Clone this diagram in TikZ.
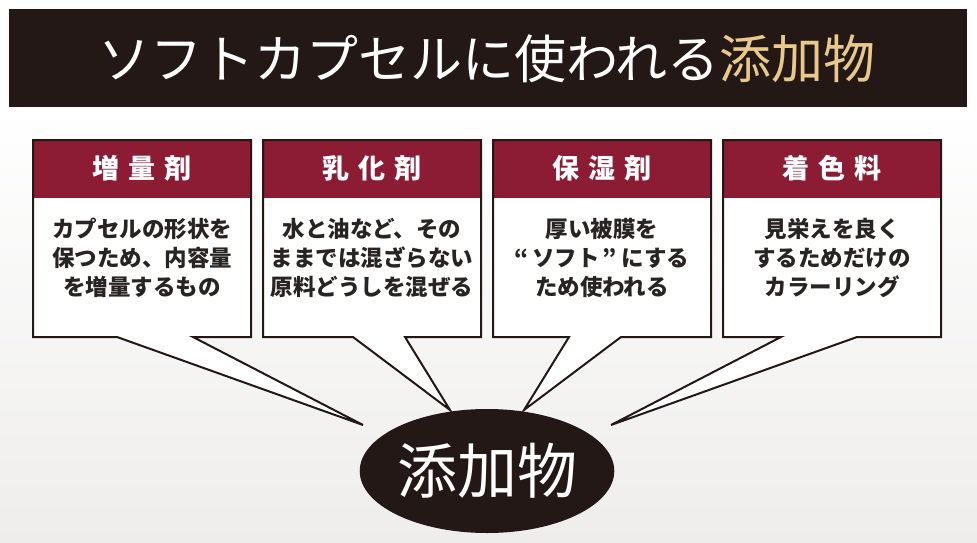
\documentclass[tikz,border=0pt]{standalone}
\usepackage{fontspec}
\usetikzlibrary{shapes.geometric}
\setmainfont{Noto Sans CJK JP}
\definecolor{barcol}{RGB}{35,24,21}
\definecolor{gold}{RGB}{232,200,140}
\definecolor{maroon}{RGB}{140,27,52}
\definecolor{bodytxt}{RGB}{40,36,34}
\definecolor{bgbot}{RGB}{238,237,236}
\tikzset{
  headbox/.style={rectangle, minimum width=218pt, minimum height=58pt, inner sep=0pt,
     text=white, font=\fontsize{27}{30}\selectfont\bfseries},
  bodytext/.style={align=center, text=bodytxt, inner sep=0pt,
     font=\fontsize{22.5}{29}\selectfont\bfseries},
  outline/.style={draw=barcol, line width=2pt, line join=miter},
}
\begin{document}
\begin{tikzpicture}[x=1pt,y=-1pt]
\useasboundingbox (0,0) rectangle (977,543);
% background
\fill[white] (0,0) rectangle (977,107);
\shade[top color=white, bottom color=bgbot] (0,107) rectangle (977,543);
% title bar
\fill[barcol] (9,9) rectangle (967,107);
\node[text=white, font=\fontsize{52}{60}\selectfont, inner sep=0pt] (title) at (487,59)
  {ソフトカプセルに使われる\textcolor{gold}{添加物}};

% ellipse
\node[ellipse, fill=barcol, minimum width=232pt, minimum height=124pt, inner sep=0pt,
  text=white, font=\fontsize{60}{64}\selectfont] (center) at (487,471) {添加物};

% tail coordinates
\coordinate (tip1) at (363,425);
\coordinate (tip2) at (450,410);
\coordinate (tip3) at (524,410);
\coordinate (tip4) at (611,425);

% boxes: left, right, tail a, tail b, tip
\foreach \L/\R/\a/\b/\tp/\n in {33/251/117/193/tip1/1, 263/481/353/405/tip2/2, 493/711/569/621/tip3/3, 723/941/781/857/tip4/4}{
  \fill[white] (\L,140) -- (\R,140) -- (\R,337) -- (\b,337) -- (\tp) -- (\a,337) -- (\L,337) -- cycle;
  \fill[maroon] (\L,140) rectangle (\R,198);
  \draw[outline] (\L,140) -- (\R,140) -- (\R,337) -- (\b,337) -- (\tp) -- (\a,337) -- (\L,337) -- cycle;
}

\node[headbox] (h1) at (142,168) {増\hspace{0.35em}量\hspace{0.35em}剤};
\node[headbox] (h2) at (372,168) {乳\hspace{0.35em}化\hspace{0.35em}剤};
\node[headbox] (h3) at (602,168) {保\hspace{0.35em}湿\hspace{0.35em}剤};
\node[headbox] (h4) at (832,168) {着\hspace{0.35em}色\hspace{0.35em}料};

\node[bodytext] (t1) at (142,258) {カプセルの形状を\\保つため、内容量\\を増量するもの};
\node[bodytext] (t2) at (372,258) {水と油など、その\\ままでは混ざらない\\原料どうしを混ぜる};
\node[bodytext] (t3) at (602,258) {厚い被膜を\\“\hspace{0.15em}ソフト\hspace{0.15em}”\hspace{0.2em}にする\\ため使われる};
\node[bodytext] (t4) at (832,258) {見栄えを良く\\するためだけの\\カラーリング};
\end{tikzpicture}
\end{document}
